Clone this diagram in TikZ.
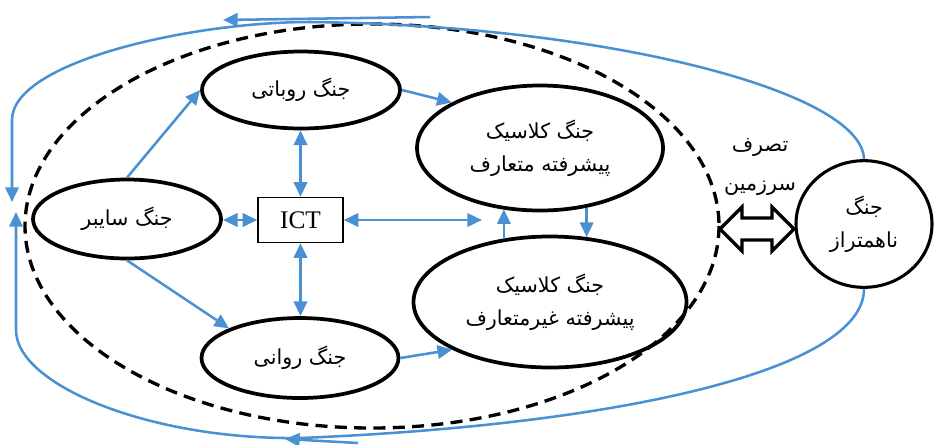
\documentclass[tikz,border=0pt]{standalone}
\usepackage{fontspec}
\setmainfont{Liberation Serif}
\newfontfamily\fa[Script=Arabic]{DejaVu Sans}
\TeXXeTstate=1
\usetikzlibrary{arrows.meta,shapes.geometric}
\definecolor{lblue}{RGB}{74,145,212}
\begin{document}
\begin{tikzpicture}[x=0.75pt,y=-0.75pt,
  war/.style={draw,ellipse,line width=2.8pt,inner sep=0pt,align=center,
    font=\fa\fontsize{15.5}{25}\selectfont},
  tip/.tip={Triangle[length=11pt,width=10pt]},
  link/.style={draw=lblue,line width=1.9pt,-tip},
  both/.style={draw=lblue,line width=1.9pt,tip-tip},
  dashring/.style={draw,line width=2.5pt,dash pattern=on 9pt off 5.5pt},
  bigarrow/.style={draw,line width=2.5pt,line join=miter}
]
\useasboundingbox (0,0) rectangle (937,444);
% big dashed ellipse
\draw[dashring] (372,226) ellipse [x radius=347, y radius=202];
% nodes
\node[war,minimum width=148.5pt,minimum height=57.75pt] (rob) at (301,90) {\beginR جنگ روباتی\endR};
\node[war,minimum width=141pt,minimum height=59.25pt] (cyb) at (127,219) {\beginR جنگ سایبر\endR};
\node[war,minimum width=147.75pt,minimum height=60pt] (psy) at (300,358) {\beginR جنگ روانی\endR};
\node[war,minimum width=184.5pt,minimum height=93.75pt] (conv) at (540,148) {\beginR جنگ کلاسیک\endR\\\beginR پیشرفته متعارف\endR};
\node[war,minimum width=204.75pt,minimum height=98.25pt] (unc) at (550,302) {\beginR جنگ کلاسیک\endR\\\beginR پیشرفته غیرمتعارف\endR};
\node[war,line width=2.3pt,minimum width=102pt,minimum height=95pt] (asy) at (864,224) {\beginR جنگ\endR\\\beginR ناهمتراز\endR};
\node[draw,line width=1pt,minimum width=63.75pt,minimum height=33.75pt,inner sep=0pt,font=\fontsize{19}{22}\selectfont] (ict) at (300.5,220) {ICT};
\node[align=center,font=\fa\fontsize{15.5}{29}\selectfont] (occ) at (760,167) {\beginR تصرف\endR\\\beginR سرزمین\endR};
% inner connectors
\draw[link] (cyb.north) -- (rob.west);
\draw[link] (cyb.south) -- (psy.north west);
\draw[link] (rob.east) -- (conv.north west);
\draw[link] (psy.east) -- (unc.south west);
\draw[both] (ict.north) -- (ict.north |- rob.south);
\draw[both] (ict.south) -- (ict.south |- psy.north);
\draw[both] (ict.west -| cyb.east) -- (ict.west);
\coordinate (mid) at (482,220);
\draw[both] (ict.east) -- (mid);
\draw[link] (unc.126.7) -- (unc.126.7 |- conv.238.9);
\draw[link] (conv.308.4) -- (conv.308.4 |- unc.60.3);
% hollow double arrow
\coordinate (dl) at (720,229);
\coordinate (dr) at (794,229);
\draw[bigarrow] (dl) -- ++(22,-22) -- ++(0,11) -- ++(30,0) -- ++(0,-11) -- (dr)
  -- ++(-22,22) -- ++(0,-11) -- ++(-30,0) -- ++(0,11) -- cycle;
% outer loops
\coordinate (tl) at (12,202);
\coordinate (bl) at (16,212);
\draw[link] (asy.north) .. controls (862,90) and (600,25) .. (310,22)
  .. controls (190,22) and (12,62) .. (12,120) -- (tl);
\draw[link] (asy.south) .. controls (864,370) and (620,425) .. (300,438)
  .. controls (150,440) and (16,385) .. (16,330) -- (bl);
% short stray arrows
\coordinate (ta) at (430,17);
\coordinate (tb) at (223,20);
\draw[link] (ta) -- (tb);
\coordinate (ba) at (358,443);
\coordinate (bb) at (285,439);
\draw[link] (ba) -- (bb);
\end{tikzpicture}
\end{document}
